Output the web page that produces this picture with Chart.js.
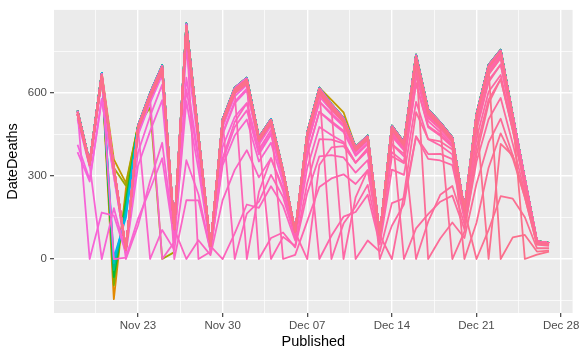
<!DOCTYPE html>
<html>
<head>
<meta charset="utf-8">
<script src="https://cdn.jsdelivr.net/npm/chart.js@4.4.1/dist/chart.umd.min.js"></script>
<style>
  html, body { margin: 0; padding: 0; background: #fff; }
</style>
</head>
<body>
<canvas id="deathsChart" width="581" height="359"></canvas>
<script>
// published dates (x axis)
const published = [
  '2020-11-18','2020-11-19','2020-11-20','2020-11-21','2020-11-22','2020-11-23','2020-11-24','2020-11-25',
  '2020-11-26','2020-11-27','2020-11-28','2020-11-29','2020-11-30','2020-12-01','2020-12-02','2020-12-03',
  '2020-12-04','2020-12-05','2020-12-06','2020-12-07','2020-12-08','2020-12-09','2020-12-10','2020-12-11',
  '2020-12-12','2020-12-13','2020-12-14','2020-12-15','2020-12-16','2020-12-17','2020-12-18','2020-12-19',
  '2020-12-20','2020-12-21','2020-12-22','2020-12-23','2020-12-24','2020-12-25','2020-12-26','2020-12-27'
];
const tickDates = ['2020-11-23','2020-11-30','2020-12-07','2020-12-14','2020-12-21','2020-12-28'];
const tickLabels = ['Nov 23','Nov 30','Dec 07','Dec 14','Dec 21','Dec 28'];
const yTicks = [0, 300, 600];

// upper envelope
const total = [536, 350, 672, 335, 35, 482, 600, 700, 110, 851, 450, 48, 506, 619, 655, 440, 506, 320, 100, 458,
  619, 560, 510, 405, 446, 89, 482, 422, 738, 541, 494, 440, 180, 524, 702, 756, 520, 290, 65, 58];

// older groups, mostly hidden under the pink ones
const early1 = [536, 350, 672, -145, 255, 482, 600, 700, 110, 851, 450, 48, 506, 619, 655, 440, 506, 320, 100, 458,
  619, 560, 510, 405, 446, 89, 482, 422, 738, 541, 494, 440, 180, 524, 702, 756, 520, 290, 65, 58];
const early2 = [536, 350, 672, 360, 275, 482, 600, 700, 110, 851, 450, 48, 506, 619, 655, 440, 506, 320, 100, 458,
  619, 575, 530, 405, 446, 89, 482, 422, 738, 541, 494, 440, 180, 524, 702, 756, 520, 290, 65, 58];
const early3 = [536, 350, 672, 330, 265, 482, 547, 0, 25, null, null, null, null, null, null, null, null, null, null, null,
  null, null, null, null, null, null, null, null, null, null, null, null, null, null, null, null, null, null, null, null];
const early4 = [536, 350, 672, -95, 230, 482, 600, 700, 110, 851, 450, 48, 506, 619, 655, 440, 506, 320, 100, 458,
  619, 560, 510, 405, 446, 89, 482, 422, 738, 541, 494, 440, 180, 524, 702, 756, 520, 290, 65, 58];
const early5 = [536, 350, 672, -65, 205, 482, 600, 700, 110, 851, 450, 48, 506, 619, 655, 440, 506, 320, 100, 458,
  619, 560, 510, 405, 446, 89, 482, 422, 738, 541, 494, 440, 180, 524, 702, 756, 520, 290, 65, 58];
const early6 = [536, 350, 672, -40, 185, 482, 600, 700, 110, 851, 450, 48, 506, 619, 655, 440, 506, 320, 100, 458,
  619, 560, 510, 405, 446, 89, 482, 422, 738, 541, 494, 440, 180, 524, 702, 756, 520, 290, 65, 58];
const early7 = [536, 350, 672, -15, 165, 482, 600, 700, 110, 851, 450, 48, 506, 619, 655, 440, 506, 320, 100, 458,
  619, 560, 510, 405, 446, 89, 482, 422, 738, 541, 494, 440, 180, 524, 702, 756, 520, 290, 65, 58];
const early8 = [536, 350, 672, 5, 150, 482, 600, 700, 110, 851, 450, 48, 506, 619, 655, 440, 506, 320, 100, 458,
  619, 560, 510, 405, 446, 89, 482, 422, 738, 541, 494, 440, 180, 524, 702, 756, 520, 290, 65, 58];

// pink groups (by date of death), one value per published date
const g1107 = [504, 333, 645, 325, 34, 472, 591, 693, 109, 842, 446, 48, 501, 613, 648, 436, 501, 317, 99, 453,
  613, 554, 505, 401, 442, 88, 477, 418, 731, 536, 489, 436, 178, 519, 695, 748, 515, 287, 64, 57];
const g1110 = [509, 336, 652, 327, 34, 475, 591, 690, 109, 842, 446, 48, 501, 613, 648, 436, 501, 317, 99, 453,
  613, 554, 505, 401, 442, 88, 477, 418, 731, 536, 489, 436, 178, 519, 695, 748, 515, 287, 64, 57];
const g1113 = [413, 287, 578, 298, 32, 448, 564, 665, 106, 825, 439, 47, 498, 613, 648, 436, 501, 317, 99, 453,
  613, 554, 505, 401, 442, 88, 477, 418, 731, 536, 489, 436, 178, 519, 695, 748, 515, 287, 64, 57];
const g1116 = [386, 280, 578, 302, 32, 453, 570, 672, 107, 830, 441, 47, 498, 610, 648, 436, 501, 317, 99, 453,
  613, 554, 505, 401, 442, 88, 477, 418, 731, 536, 489, 436, 178, 519, 695, 748, 515, 287, 64, 57];
const g1119 = [531, 0, 168, 157, 21, 337, 462, 574, 95, 757, 410, 45, 476, 588, 629, 427, 493, 314, 99, 453,
  613, 554, 505, 401, 442, 88, 477, 418, 731, 536, 489, 436, 178, 519, 695, 748, 515, 287, 64, 57];
const g1120 = [520, 340, 0, 184, 25, 386, 516, 630, 101, 800, 428, 46, 491, 604, 642, 433, 498, 315, 99, 453,
  613, 554, 505, 401, 442, 88, 477, 418, 731, 536, 489, 436, 178, 519, 695, 748, 515, 287, 64, 57];
const g1121 = [525, 343, 659, 0, 5, 145, 252, 364, 66, 570, 324, 37, 405, 514, 563, 387, 455, 294, 93, 431,
  588, 538, 495, 397, 437, 87, 472, 414, 723, 530, 484, 431, 176, 514, 688, 741, 510, 284, 64, 57];
const g1122 = [531, 347, 665, 332, 0, 121, 282, 420, 77, 655, 369, 41, 450, 563, 609, 414, 481, 307, 97, 447,
  607, 551, 505, 401, 442, 88, 477, 418, 731, 536, 489, 436, 178, 519, 695, 748, 515, 287, 64, 57];
const g1124 = [525, 343, 659, 328, 34, 472, 0, 105, 33, 357, 234, 29, 339, 446, 504, 352, 420, 275, 88, 412,
  569, 521, 479, 385, 428, 86, 472, 414, 723, 530, 484, 431, 176, 514, 688, 741, 510, 284, 64, 57];
const g1125 = [520, 340, 652, 325, 34, 468, 582, 0, 61, 613, 360, 41, 455, 569, 616, 418, 486, 310, 98, 449,
  610, 552, 502, 401, 442, 88, 477, 418, 731, 536, 489, 436, 178, 519, 695, 748, 515, 287, 64, 57];
const g1126 = [531, 347, 665, 332, 35, 477, 594, 693, 0, 213, 212, 29, 354, 477, 537, 378, 450, 291, 93, 431,
  588, 538, 495, 395, 437, 88, 477, 418, 731, 536, 489, 436, 178, 519, 695, 748, 515, 287, 64, 57];
const g1127 = [525, 343, 659, 328, 34, 472, 588, 686, 108, 0, 68, 14, 213, 322, 393, 295, 364, 246, 80, 380,
  532, 493, 459, 373, 415, 84, 458, 405, 716, 530, 484, 431, 176, 514, 688, 741, 510, 284, 64, 57];
const g1128 = [520, 340, 652, 325, 34, 468, 582, 679, 107, 825, 0, 26, 364, 495, 563, 396, 466, 301, 95, 440,
  600, 546, 500, 399, 439, 88, 477, 418, 731, 536, 489, 436, 178, 519, 695, 748, 515, 287, 64, 57];
const g1130 = [525, 343, 659, 328, 34, 472, 588, 686, 108, 834, 441, 47, 0, 93, 197, 185, 263, 192, 67, 330,
  477, 448, 423, 348, 392, 80, 443, 392, 694, 514, 474, 427, 176, 514, 688, 741, 510, 284, 64, 57];
const g1201 = [531, 347, 665, 332, 35, 477, 594, 693, 109, 842, 446, 48, 501, 0, 164, 207, 304, 224, 77, 376,
  532, 498, 464, 377, 419, 85, 463, 409, 720, 530, 487, 436, 178, 519, 695, 748, 515, 287, 64, 57];
const g1202 = [520, 340, 652, 325, 34, 468, 582, 679, 107, 825, 437, 47, 491, 600, 0, 242, 364, 256, 86, 412,
  569, 526, 485, 389, 433, 87, 472, 416, 727, 533, 489, 436, 178, 519, 695, 748, 515, 287, 64, 57];
const g1203 = [525, 343, 659, 328, 34, 472, 588, 686, 108, 834, 441, 47, 496, 607, 642, 0, 76, 96, 42, 238,
  371, 375, 367, 312, 357, 74, 415, 371, 664, 498, 459, 414, 171, 503, 681, 741, 510, 284, 64, 57];
const g1204 = [531, 347, 665, 332, 35, 477, 594, 693, 109, 842, 446, 48, 501, 613, 648, 436, 0, 80, 47, 275,
  433, 431, 418, 348, 397, 81, 448, 397, 701, 519, 479, 429, 176, 516, 695, 748, 515, 287, 64, 57];
const g1205 = [525, 343, 659, 328, 34, 472, 588, 686, 108, 834, 441, 47, 496, 607, 642, 431, 496, 0, 15, 137,
  260, 291, 306, 271, 321, 69, 386, 350, 635, 476, 445, 405, 167, 493, 667, 726, 504, 284, 64, 57];
const g1207 = [520, 340, 652, 325, 34, 468, 582, 679, 107, 825, 437, 47, 491, 600, 635, 427, 491, 310, 97, 0,
  340, 403, 408, 348, 401, 82, 453, 401, 708, 525, 482, 431, 177, 516, 691, 748, 515, 287, 64, 57];
const g1208 = [525, 343, 659, 328, 34, 472, 588, 686, 108, 834, 441, 47, 496, 607, 642, 431, 496, 314, 98, 449,
  0, 84, 153, 170, 232, 53, 323, 304, 568, 433, 410, 378, 158, 472, 646, 703, 489, 276, 62, 56];
const g1209 = [531, 347, 665, 332, 35, 477, 594, 693, 109, 842, 446, 48, 501, 613, 648, 436, 501, 317, 99, 453,
  613, 0, 128, 190, 268, 62, 371, 346, 635, 481, 450, 409, 169, 498, 674, 733, 507, 284, 64, 57];
const g1210 = [520, 340, 652, 325, 34, 468, 582, 679, 107, 825, 437, 47, 491, 600, 635, 427, 491, 310, 97, 444,
  600, 543, 0, 223, 321, 71, 415, 380, 679, 509, 469, 422, 175, 511, 688, 745, 512, 286, 64, 57];
const g1211 = [525, 343, 659, 328, 34, 472, 588, 686, 108, 834, 441, 47, 496, 607, 642, 431, 496, 314, 98, 449,
  607, 549, 500, 0, 67, 27, 202, 219, 443, 362, 356, 339, 144, 435, 604, 665, 468, 267, 60, 55];
const g1213 = [531, 347, 665, 332, 35, 477, 594, 693, 109, 842, 446, 48, 501, 613, 648, 436, 501, 317, 99, 453,
  613, 554, 505, 401, 442, 0, 120, 198, 443, 379, 380, 361, 155, 466, 639, 703, 489, 276, 62, 56];
const g1214 = [520, 340, 652, 325, 34, 468, 582, 679, 107, 825, 437, 47, 491, 600, 635, 427, 491, 310, 97, 444,
  600, 543, 495, 393, 433, 86, 0, 232, 531, 433, 425, 396, 166, 493, 667, 726, 504, 283, 64, 57];
const g1215 = [525, 343, 659, 328, 34, 472, 588, 686, 108, 834, 441, 47, 496, 607, 642, 431, 496, 314, 98, 449,
  607, 549, 500, 397, 437, 87, 472, 0, 111, 162, 207, 229, 108, 351, 505, 582, 416, 241, 56, 51];
const g1216 = [531, 347, 665, 332, 35, 477, 594, 693, 109, 842, 446, 48, 501, 613, 648, 436, 501, 317, 99, 453,
  613, 554, 505, 401, 442, 88, 477, 418, 0, 135, 232, 264, 126, 403, 576, 650, 463, 264, 60, 55];
const g1217 = [525, 343, 659, 328, 34, 472, 588, 686, 108, 834, 441, 47, 496, 607, 642, 431, 496, 314, 98, 449,
  607, 549, 500, 397, 437, 87, 472, 414, 723, 0, 74, 132, 76, 272, 421, 507, 374, 223, 52, 48];
const g1219 = [520, 340, 652, 325, 34, 468, 582, 679, 107, 825, 437, 47, 491, 600, 635, 427, 491, 310, 97, 444,
  600, 543, 495, 393, 433, 86, 468, 409, 716, 525, 479, 0, 99, 377, 562, 650, 468, 267, 61, 55];
const g1220 = [531, 347, 665, 332, 35, 477, 594, 693, 109, 842, 446, 48, 501, 613, 648, 436, 501, 317, 99, 453,
  613, 554, 505, 401, 442, 88, 477, 418, 731, 536, 489, 436, 0, 131, 330, 454, 364, 223, 53, 50];
const g1221 = [525, 343, 659, 328, 34, 472, 588, 686, 108, 834, 441, 47, 496, 607, 642, 431, 496, 314, 98, 449,
  607, 549, 500, 397, 437, 87, 472, 414, 723, 530, 484, 431, 176, 0, 105, 227, 218, 151, 39, 39];
const g1222 = [520, 340, 652, 325, 34, 468, 582, 679, 107, 825, 437, 47, 491, 600, 635, 427, 491, 310, 97, 444,
  600, 543, 495, 393, 433, 86, 468, 409, 716, 525, 479, 427, 175, 508, 0, 416, 374, 232, 56, 52];
const g1223 = [525, 343, 659, 328, 34, 472, 588, 686, 108, 834, 441, 47, 496, 607, 642, 431, 496, 314, 98, 449,
  607, 549, 500, 397, 437, 87, 472, 414, 723, 530, 484, 431, 176, 514, 688, 0, 78, 87, 27, 30];
const g1225 = [531, 347, 665, 332, 35, 477, 594, 693, 109, 842, 446, 48, 501, 613, 648, 436, 501, 317, 99, 453,
  613, 554, 505, 401, 442, 88, 477, 418, 731, 536, 489, 436, 178, 519, 695, 748, 515, 0, 16, 27];

const earlyGroups = [
  [early1, '#E38900'], [early2, '#C49A00'], [early3, '#A3A500'], [early4, '#7CAE00'],
  [early5, '#00BA38'], [early6, '#00C08B'], [early7, '#00BFC4'], [early8, '#00B4F0']
];
const pinkGroups = [
  g1107, g1110, g1113, g1116, g1119, g1120, g1121, g1122, g1124, g1125, g1126, g1127,
  g1128, g1130, g1201, g1202, g1203, g1204, g1205, g1207, g1208, g1209, g1210, g1211,
  g1213, g1214, g1215, g1216, g1217, g1219, g1220, g1221, g1222, g1223, g1225
];

const dayNo = s => (Date.parse(s) - Date.parse('2020-11-23')) / 86400000;
const toPoints = vals => vals.map((v, i) => ({ x: dayNo(published[i]), y: v }));

// hue ramp over the last (pink) part of the palette: magenta -> pink -> rose
const ramp = t => {
  const stops = [[245, 100, 227], [255, 100, 176], [251, 112, 138]];
  const s = t < 0.5 ? 0 : 1, u = t < 0.5 ? t * 2 : (t - 0.5) * 2;
  const a = stops[s], b = stops[s + 1];
  return 'rgb(' + a.map((c, k) => Math.round(c + (b[k] - c) * u)).join(',') + ')';
};

const datasets = [];
earlyGroups.forEach(([vals, col]) => datasets.push({ data: toPoints(vals), borderColor: col }));
datasets.push({
  data: toPoints(total), borderColor: '#FF61C9',
  segment: { borderColor: ctx => ramp(0.75 * ctx.p0DataIndex / (published.length - 1)) }
});
pinkGroups.forEach((vals, i) => datasets.push({ data: toPoints(vals), borderColor: ramp(i / (pinkGroups.length - 1)) }));
datasets.forEach((d, i) => { d.order = datasets.length - i; });

const xMajor = tickDates.map(dayNo);
const xGrid = [xMajor[0] - 3.5];
xMajor.forEach((v, i) => { xGrid.push(v); if (i < xMajor.length - 1) xGrid.push(v + 3.5); });
const yGrid = [-150];
yTicks.forEach(v => { yGrid.push(v); yGrid.push(v + 150); });

const panelBg = {
  id: 'panelBg',
  beforeDraw(chart) {
    const { ctx, chartArea: a } = chart;
    ctx.save();
    ctx.fillStyle = '#fff';
    ctx.fillRect(0, 0, chart.width, chart.height);
    ctx.fillStyle = '#EBEBEB';
    ctx.fillRect(a.left, a.top, a.right - a.left, a.bottom - a.top);
    ctx.restore();
  }
};

const tickFont = { family: 'Liberation Sans, Arial, sans-serif', size: 11.5 };
const titleFont = { family: 'Liberation Sans, Arial, sans-serif', size: 14.5 };

new Chart(document.getElementById('deathsChart').getContext('2d'), {
  type: 'line',
  data: { datasets },
  options: {
    responsive: false,
    animation: false,
    devicePixelRatio: 1,
    layout: { padding: { top: 7, right: 7, left: 0, bottom: 0 } },
    plugins: { legend: { display: false }, tooltip: { enabled: false } },
    elements: {
      point: { radius: 0 },
      line: { borderWidth: 1.8, tension: 0, borderJoinStyle: 'round', fill: false }
    },
    scales: {
      x: {
        type: 'linear',
        min: -6.95,
        max: 35.95,
        afterBuildTicks: s => { s.ticks = xGrid.map(v => ({ value: v })); },
        afterFit: s => { s.height = 46; },
        border: { display: false },
        grid: {
          color: '#FFFFFF',
          lineWidth: c => (xMajor.includes(c.tick.value) ? 1.4 : 0.7),
          tickLength: 4,
          tickWidth: 1.1,
          tickColor: c => (xMajor.includes(c.tick.value) ? '#333333' : 'rgba(0,0,0,0)')
        },
        ticks: {
          autoSkip: false, maxRotation: 0, padding: 1.5, color: '#4D4D4D', font: tickFont,
          callback: v => { const k = xMajor.indexOf(v); return k >= 0 ? tickLabels[k] : ''; }
        },
        title: { display: true, text: 'Published', color: '#000', font: titleFont, padding: { top: 0, bottom: 8 } }
      },
      y: {
        type: 'linear',
        min: -195,
        max: 900,
        afterBuildTicks: s => { s.ticks = yGrid.map(v => ({ value: v })); },
        afterFit: s => { s.width = 54; },
        border: { display: false },
        grid: {
          color: '#FFFFFF',
          lineWidth: c => (yTicks.includes(c.tick.value) ? 1.4 : 0.7),
          tickLength: 4,
          tickWidth: 1.1,
          tickColor: c => (yTicks.includes(c.tick.value) ? '#333333' : 'rgba(0,0,0,0)')
        },
        ticks: {
          autoSkip: false, padding: 3, color: '#4D4D4D', font: tickFont,
          callback: v => (yTicks.includes(v) ? String(v) : '')
        },
        title: { display: true, text: 'DateDeaths', color: '#000', font: titleFont, padding: { top: 4, bottom: 0 } }
      }
    }
  },
  plugins: [panelBg]
});
</script>
</body>
</html>
